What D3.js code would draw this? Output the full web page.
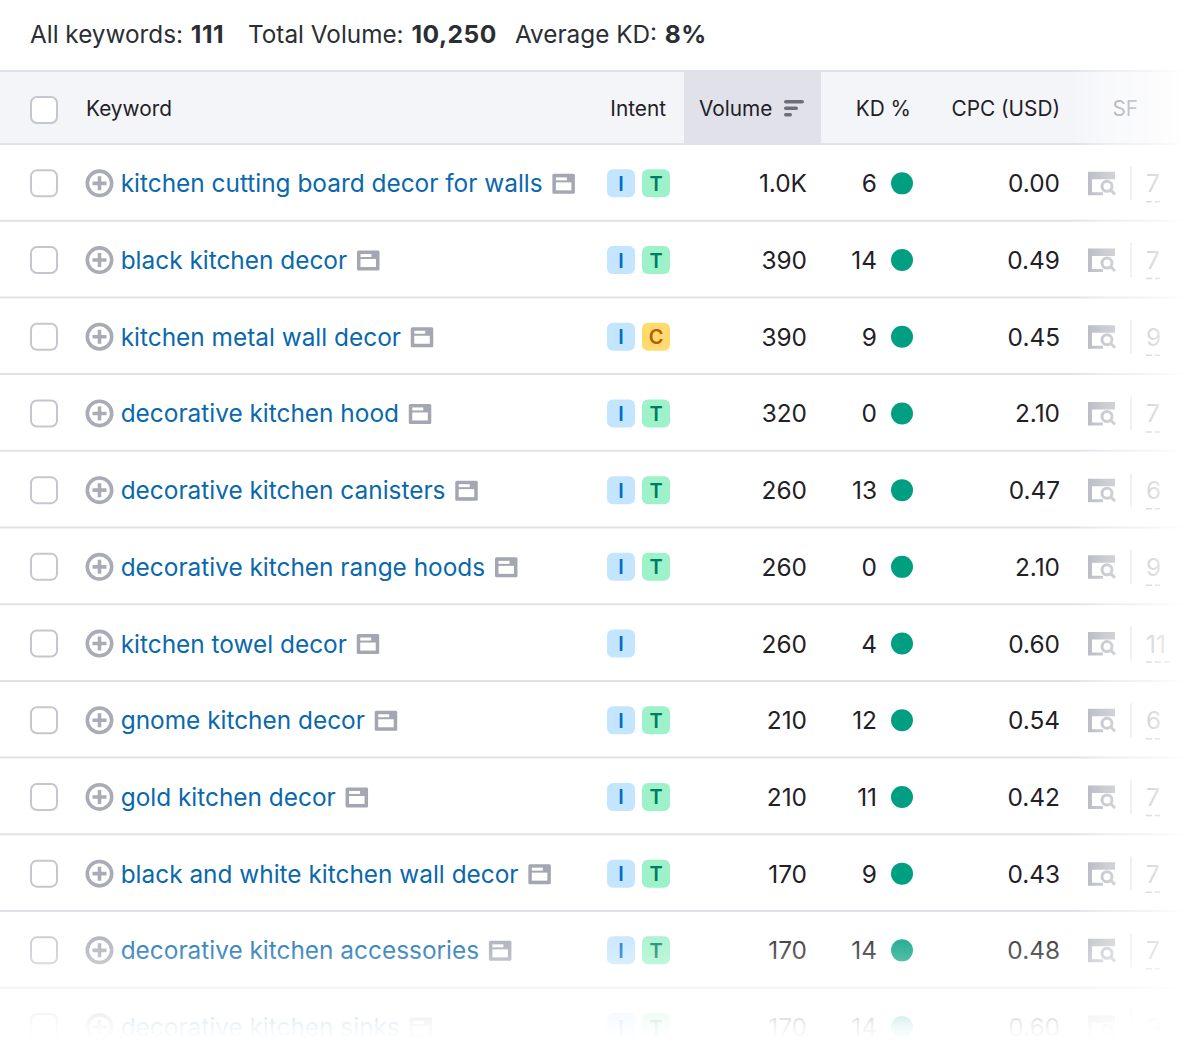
<!DOCTYPE html>
<html>
<head>
<meta charset="utf-8">
<script src="https://cdn.jsdelivr.net/npm/d3@7"></script>
<style>
  html, body { margin: 0; padding: 0; background: #fff; }
  svg { display: block; }
  text { font-family: Inter, "Noto Sans", sans-serif; }
</style>
</head>
<body>
<div id="chart"></div>
<script>
'use strict';

// les donnees du tableau
var keywords = [
  'kitchen cutting board decor for walls',
  'black kitchen decor',
  'kitchen metal wall decor',
  'decorative kitchen hood',
  'decorative kitchen canisters',
  'decorative kitchen range hoods',
  'kitchen towel decor',
  'gnome kitchen decor',
  'gold kitchen decor',
  'black and white kitchen wall decor',
  'decorative kitchen accessories',
  'decorative kitchen sinks'
];
var intents = ['IT', 'IT', 'IC', 'IT', 'IT', 'IT', 'I', 'IT', 'IT', 'IT', 'IT', 'IT'];
var volumes = [1000, 390, 390, 320, 260, 260, 260, 210, 210, 170, 170, 170];
var kd = [6, 14, 9, 0, 13, 0, 4, 12, 11, 9, 14, 14];
var cpc = [0.00, 0.49, 0.45, 2.10, 0.47, 2.10, 0.60, 0.54, 0.42, 0.43, 0.48, 0.60];
var sf = [7, 7, 9, 7, 6, 9, 11, 6, 7, 7, 7, 9];

var headers = ['Keyword', 'Intent', 'Volume', 'KD %', 'CPC (USD)', 'SF'];
var summary = [
  ['All keywords: ', '111', 30],
  ['Total Volume: ', '10,250', 248],
  ['Average KD: ', '8%', 515]
];

var width = 1200, height = 1055;
var headerTop = 71, headerBottom = 144, rowHeight = 76.7;
var badgeColors = {
  I: { bg: '#c4e5fe', fg: '#006dca' },
  T: { bg: '#9ef2c9', fg: '#007c65' },
  C: { bg: '#ffda6e', fg: '#b75e00' }
};

var svg = d3.select('#chart').append('svg')
  .attr('width', width).attr('height', height)
  .attr('viewBox', [0, 0, width, height]);

var y = d3.scaleBand().domain(d3.range(keywords.length))
  .range([headerBottom, headerBottom + rowHeight * keywords.length]);

var formatVolume = function (v) {
  return v >= 1000 ? d3.format('.1f')(v / 1000) + 'K' : String(v);
};

// ligne du resume
var topLine = svg.append('text').attr('y', 43).attr('font-size', 24.3).attr('fill', '#2b2e33');
summary.forEach(function (s) {
  topLine.append('tspan').attr('x', s[2]).text(s[0]);
  topLine.append('tspan').attr('font-weight', 700).attr('font-size', 24.6)
    .attr('dx', 1).attr('letter-spacing', 0.5).text(s[1]);
});

// entete
svg.append('rect').attr('x', 0).attr('y', headerTop).attr('width', width).attr('height', headerBottom - headerTop).attr('fill', '#f4f5f9');
svg.append('rect').attr('x', 684).attr('y', headerTop).attr('width', 137).attr('height', headerBottom - headerTop).attr('fill', '#e0e1e9');
svg.append('line').attr('x1', 0).attr('x2', width).attr('y1', headerTop).attr('y2', headerTop).attr('stroke', '#e0e1e9').attr('stroke-width', 2);

var headY = 108;
var drawBox = function (sel, cy) {
  sel.append('rect').attr('x', 31).attr('y', cy - 13).attr('width', 26).attr('height', 26).attr('rx', 6)
    .attr('fill', '#fff').attr('stroke', '#c4c7cf').attr('stroke-width', 2);
};
drawBox(svg, headY + 2);

var headX = [86, 666, 699, 911, 1060, 1138];
var headAnchor = ['start', 'end', 'start', 'end', 'end', 'end'];
svg.selectAll('text.head').data(headers).join('text')
  .attr('class', 'head')
  .attr('x', function (d, i) { return headX[i]; })
  .attr('y', headY + 8)
  .attr('text-anchor', function (d, i) { return headAnchor[i]; })
  .attr('font-size', 20.8)
  .attr('fill', function (d) { return d === 'SF' ? '#7d808a' : '#1f2126'; })
  .text(function (d) { return d; });

// petit icone de tri
[20, 14, 8].forEach(function (w, i) {
  svg.append('rect').attr('x', 784).attr('y', 100 + i * 6.5).attr('width', w).attr('height', 3.6).attr('rx', 1.8).attr('fill', '#6c6e79');
});

// les lignes
var rows = svg.selectAll('g.row').data(keywords).join('g')
  .attr('class', 'row')
  .attr('transform', function (d, i) { return 'translate(0,' + (y(i) + y.bandwidth() / 2 + 1) + ')'; });

rows.append('line').attr('x1', 0).attr('x2', width)
  .attr('y1', y.bandwidth() / 2 - 1).attr('y2', y.bandwidth() / 2 - 1)
  .attr('stroke', '#e0e1e9').attr('stroke-width', 2);

svg.append('line').attr('x1', 0).attr('x2', width).attr('y1', headerBottom).attr('y2', headerBottom).attr('stroke', '#e0e1e9').attr('stroke-width', 2);

rows.each(function () { drawBox(d3.select(this), 0); });

// bouton plus
rows.append('circle').attr('cx', 99.5).attr('r', 12.2).attr('fill', 'none').attr('stroke', '#a9acb6').attr('stroke-width', 3.6);
rows.append('path').attr('d', 'M92.5 0H106.5M99.5 -7V7').attr('stroke', '#a9acb6').attr('stroke-width', 3.6).attr('fill', 'none');

rows.append('text').attr('class', 'kw').attr('x', 120.7).attr('y', 9)
  .attr('font-size', 24.4).attr('fill', '#0a68ad')
  .text(function (d) { return d; });

// icone apres le mot cle
rows.each(function () {
  var g = d3.select(this);
  var tw = g.select('text.kw').node().getComputedTextLength();
  var ix = 121 + tw + 9.5;
  g.append('rect').attr('x', ix).attr('y', -9.5).attr('width', 22.5).attr('height', 20).attr('rx', 1.5).attr('fill', '#a4a7b2');
  g.append('rect').attr('x', ix + 3.5).attr('y', -1).attr('width', 15.5).attr('height', 8).attr('fill', '#fff');
  g.append('rect').attr('x', ix + 3.5).attr('y', -6).attr('width', 11).attr('height', 3).attr('fill', '#fff');
});

// badges d'intention
var badges = rows.selectAll('g.badge').data(function (d, i) { return intents[i].split(''); }).join('g')
  .attr('class', 'badge')
  .attr('transform', function (d, i) { return 'translate(' + (607 + i * 35) + ',0)'; });
badges.append('rect').attr('y', -14).attr('width', 28).attr('height', 28).attr('rx', 6)
  .attr('fill', function (d) { return badgeColors[d].bg; });
badges.append('text').attr('x', 14).attr('y', 7.5).attr('text-anchor', 'middle')
  .attr('font-size', 20).attr('font-weight', 600)
  .attr('fill', function (d) { return badgeColors[d].fg; })
  .text(function (d) { return d; });

var numText = function (x, get) {
  rows.append('text').attr('x', x).attr('y', 9).attr('text-anchor', 'end')
    .attr('font-size', 24.4).attr('fill', '#1f2126')
    .text(function (d, i) { return get(i); });
};
numText(807, function (i) { return formatVolume(volumes[i]); });
numText(877, function (i) { return kd[i]; });
numText(1060, function (i) { return d3.format('.2f')(cpc[i]); });

rows.append('circle').attr('cx', 902).attr('r', 11).attr('fill', '#009f81');

// icone SERP et chiffre SF
rows.append('path')
  .attr('d', 'M1088 -11.5H1115V-4H1092V9H1103V12H1088Z')
  .attr('fill', '#a9acb6');
rows.append('circle').attr('cx', 1107).attr('cy', 3).attr('r', 5).attr('fill', 'none').attr('stroke', '#a9acb6').attr('stroke-width', 3);
rows.append('line').attr('x1', 1110.5).attr('y1', 6.5).attr('x2', 1115).attr('y2', 11).attr('stroke', '#a9acb6').attr('stroke-width', 3);
rows.append('line').attr('x1', 1131).attr('x2', 1131).attr('y1', -17).attr('y2', 17).attr('stroke', '#dfe0e6').attr('stroke-width', 2);
rows.append('text').attr('x', 1146).attr('y', 9).attr('font-size', 24.4).attr('fill', '#8f929d')
  .text(function (d, i) { return sf[i]; });
rows.append('line').attr('x1', 1146).attr('x2', function (d, i) { return sf[i] > 9 ? 1170 : 1160; })
  .attr('y1', 18.5).attr('y2', 18.5).attr('stroke', '#9a9da8').attr('stroke-width', 1.5).attr('stroke-dasharray', '6 3');

// fondu a droite et en bas
var defs = svg.append('defs');
var fadeR = defs.append('linearGradient').attr('id', 'fadeR');
[[0, 0], [0.3, 0.4], [0.7, 0.66], [1, 1]].forEach(function (s) {
  fadeR.append('stop').attr('offset', s[0]).attr('stop-color', '#fff').attr('stop-opacity', s[1]);
});
var fadeB = defs.append('linearGradient').attr('id', 'fadeB').attr('x2', 0).attr('y2', 1);
[[0, 0], [0.3, 0.25], [0.6, 0.6], [0.88, 0.93], [1, 1]].forEach(function (s) {
  fadeB.append('stop').attr('offset', s[0]).attr('stop-color', '#fff').attr('stop-opacity', s[1]);
});
svg.append('rect').attr('x', 1070).attr('y', 60).attr('width', 115).attr('height', height - 60).attr('fill', 'url(#fadeR)');
svg.append('rect').attr('x', 1185).attr('y', 60).attr('width', 15).attr('height', height - 60).attr('fill', '#fff');
svg.append('rect').attr('x', 0).attr('y', 915).attr('width', width).attr('height', 125).attr('fill', 'url(#fadeB)');
svg.append('rect').attr('x', 0).attr('y', 1040).attr('width', width).attr('height', 15).attr('fill', '#fff');
</script>
</body>
</html>
